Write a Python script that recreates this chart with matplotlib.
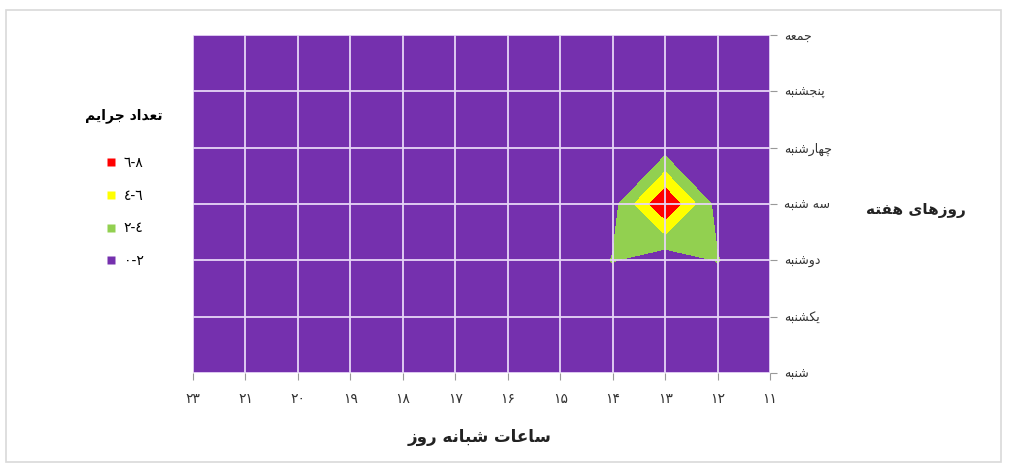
import matplotlib
matplotlib.use('Agg')
import matplotlib.pyplot as plt
import numpy as np
from matplotlib.lines import Line2D
from matplotlib.patches import Rectangle

# --- data ---
hours = ['۱۱', '۱۲', '۱۳', '۱۴', '۱۵', '۱۶', '۱۷', '۱۸', '۱۹', '۲۰', '۲۱', '۲۳']
days = ['شنبه', 'یکشنبه', 'دوشنبه', 'سه شنبه', 'چهارشنبه', 'پنجشنبه', 'جمعه']

# crime counts, one row per day (شنبه .. جمعه), one column per hour (11 .. 23)
crimes_sat = [0, 0, 0, 0, 0, 0, 0, 0, 0, 0, 0, 0]
crimes_sun = [0, 0, 0, 0, 0, 0, 0, 0, 0, 0, 0, 0]
crimes_mon = [0, 2.1, 0.5, 2.1, 0, 0, 0, 0, 0, 0, 0, 0]
crimes_tue = [0, 1.2, 8, 1.2, 0, 0, 0, 0, 0, 0, 0, 0]
crimes_wed = [0, 0, 1, 0, 0, 0, 0, 0, 0, 0, 0, 0]
crimes_thu = [0, 0, 0, 0, 0, 0, 0, 0, 0, 0, 0, 0]
crimes_fri = [0, 0, 0, 0, 0, 0, 0, 0, 0, 0, 0, 0]

levels = [0, 2, 4, 6, 8]
level_labels = ['٠-٢', '٢-٤', '٤-٦', '٦-٨']
level_colors = ['#7530AE', '#92D050', '#FFFF00', '#FF0000']

title_x = 'ساعات شبانه روز'
title_y = 'روزهای هفته'
title_legend = 'تعداد جرایم'


# matplotlib does not shape arabic script, so pick the presentation forms by hand
FORMS = {
    # letter: (isolated, final, initial, medial)
    'ا': ('\uFE8D', '\uFE8E', None, None),
    'ب': ('\uFE8F', '\uFE90', '\uFE91', '\uFE92'),
    'پ': ('\uFB56', '\uFB57', '\uFB58', '\uFB59'),
    'ت': ('\uFE95', '\uFE96', '\uFE97', '\uFE98'),
    'ج': ('\uFE9D', '\uFE9E', '\uFE9F', '\uFEA0'),
    'چ': ('\uFB7A', '\uFB7B', '\uFB7C', '\uFB7D'),
    'د': ('\uFEA9', '\uFEAA', None, None),
    'ر': ('\uFEAD', '\uFEAE', None, None),
    'ز': ('\uFEAF', '\uFEB0', None, None),
    'س': ('\uFEB1', '\uFEB2', '\uFEB3', '\uFEB4'),
    'ش': ('\uFEB5', '\uFEB6', '\uFEB7', '\uFEB8'),
    'ع': ('\uFEC9', '\uFECA', '\uFECB', '\uFECC'),
    'ف': ('\uFED1', '\uFED2', '\uFED3', '\uFED4'),
    'ک': ('\uFB8E', '\uFB8F', '\uFB90', '\uFB91'),
    'م': ('\uFEE1', '\uFEE2', '\uFEE3', '\uFEE4'),
    'ن': ('\uFEE5', '\uFEE6', '\uFEE7', '\uFEE8'),
    'و': ('\uFEED', '\uFEEE', None, None),
    'ه': ('\uFEE9', '\uFEEA', '\uFEEB', '\uFEEC'),
    'ی': ('\uFBFC', '\uFBFD', '\uFBFE', '\uFBFF'),
}


def shape(text):
    out = []
    for i, ch in enumerate(text):
        if ch not in FORMS:
            out.append(ch)
            continue
        prev = text[i - 1] if i > 0 else ''
        nxt = text[i + 1] if i + 1 < len(text) else ''
        join_prev = prev in FORMS and FORMS[prev][2] is not None
        join_next = nxt in FORMS and FORMS[ch][2] is not None
        if join_prev and join_next:
            out.append(FORMS[ch][3])
        elif join_prev:
            out.append(FORMS[ch][1])
        elif join_next:
            out.append(FORMS[ch][2])
        else:
            out.append(FORMS[ch][0])
    return ''.join(out)[::-1]


plt.rcParams['font.family'] = ['DejaVu Sans']

fig = plt.figure(figsize=(10.09, 4.68), dpi=100)
ax = fig.add_axes([193 / 1009, 1 - 373 / 468, 577 / 1009, 338 / 468])

z = np.array([crimes_sat, crimes_sun, crimes_mon, crimes_tue,
              crimes_wed, crimes_thu, crimes_fri])
xs = np.arange(len(hours))
ys = np.arange(len(days))
ax.contourf(xs, ys, z, levels=levels, colors=level_colors)

ax.set_xlim(len(hours) - 1, 0)
ax.set_ylim(0, len(days) - 1)
ax.set_xticks(xs)
ax.set_xticklabels(hours, fontsize=10, color='#333333')
ax.set_yticks(ys)
ax.set_yticklabels([shape(d) for d in days], fontsize=9, color='#333333')
ax.yaxis.tick_right()
ax.tick_params(axis='both', length=5, width=0.8, color='#999999')
ax.tick_params(axis='x', pad=9)
ax.tick_params(axis='y', pad=5)
ax.set_axisbelow(False)
ax.grid(True, color='#E6D6F7', lw=1.3)
for s in ax.spines.values():
    s.set_visible(False)

fig.text(480 / 1009, 1 - 437 / 468, shape(title_x), ha='center', va='center',
         fontsize=12, fontweight='bold', color='#222222')
fig.text(916 / 1009, 1 - 210 / 468, shape(title_y), ha='center', va='center',
         fontsize=11, fontweight='bold', color='#222222')

handles = [Line2D([], [], ls='none', marker='s', ms=6, mec='none', mfc=c)
           for c in level_colors[::-1]]
leg = fig.legend(handles, level_labels[::-1], loc='center',
                 bbox_to_anchor=(124 / 1009, 1 - 188 / 468), frameon=False,
                 title=shape(title_legend), fontsize=10, labelspacing=1.35,
                 handletextpad=0.4, handlelength=1.0,
                 title_fontproperties={'weight': 'bold', 'size': 10})
leg._legend_box.sep = 24

# thin grey frame round the whole chart
fig.patches.append(Rectangle((6 / 1009, 6 / 468), 995 / 1009, 452 / 468,
                             transform=fig.transFigure, fill=False,
                             ec='#D9D9D9', lw=1.2))

fig.savefig('out.png', dpi=100)
